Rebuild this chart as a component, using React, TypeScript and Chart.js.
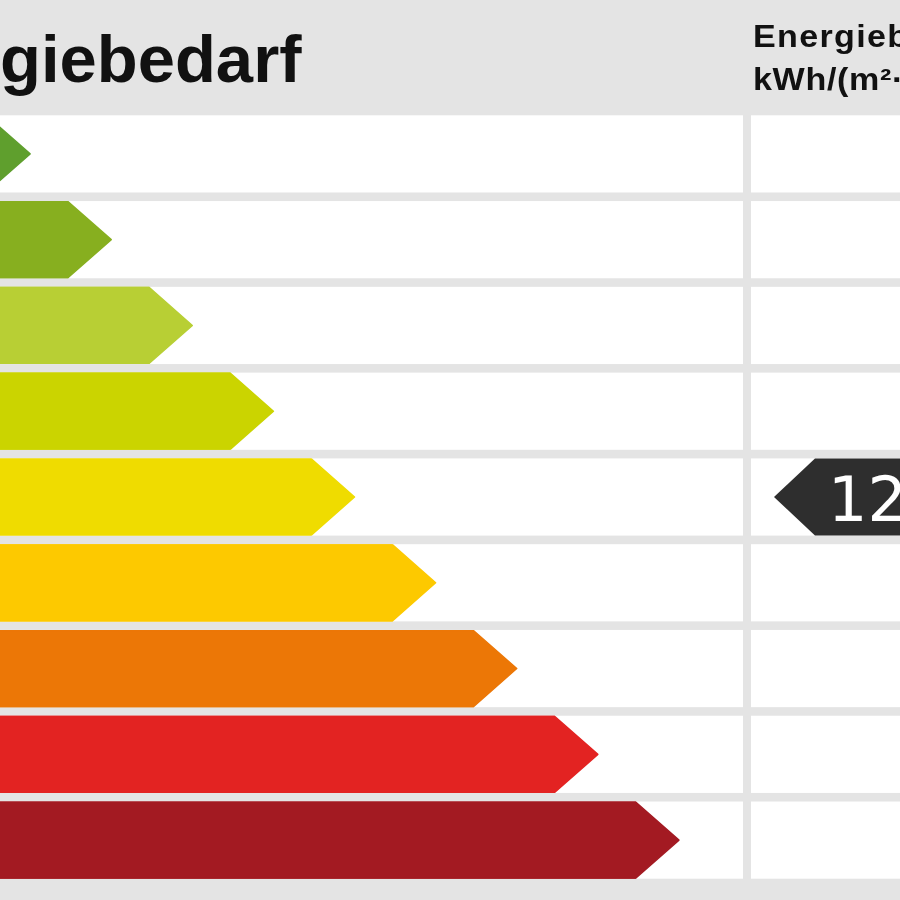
import React, { useEffect, useRef } from "react";
import { Chart, registerables } from "chart.js";

Chart.register(...registerables);

// ---- data ----
const classes = ["A+", "A", "B", "C", "D", "E", "F", "G", "H"];
const arrowLengths = [1, 2, 3, 4, 5, 6, 7, 8, 9];
const classColors = [
  "#5f9f2d",
  "#87af1f",
  "#b8cf34",
  "#cbd400",
  "#efdc00",
  "#fdc900",
  "#ec7706",
  "#e32322",
  "#a31a22",
];
const titleText = "Energiebedarf";
const headerLines = ["Energiebedarf", "kWh/(m²·a)"];
const markerClass = "D";
const markerValue = 125;

const CANVAS_W = 1150;
const CANVAS_H = 900;
const OFFSET_X = 170;
const FONT = '"Liberation Sans", Arial, sans-serif';

const energyPlugin = {
  id: "energyLabel",
  beforeDraw(chart: any) {
    const { ctx, width, height } = chart;
    ctx.save();
    ctx.fillStyle = "#e4e4e4";
    ctx.fillRect(0, 0, width, height);
    ctx.fillStyle = "#111111";
    ctx.textBaseline = "alphabetic";
    ctx.textAlign = "left";
    ctx.font = `bold 67px ${FONT}`;
    ctx.fillText(titleText, 21, 82);
    const hx = chart.chartArea.right + 10;
    ctx.save();
    ctx.translate(hx, 0);
    ctx.scale(1.1, 1);
    ctx.font = `bold 31px ${FONT}`;
    (ctx as any).letterSpacing = "1.2px";
    ctx.fillText(headerLines[0], 0, 47);
    (ctx as any).letterSpacing = "0.6px";
    ctx.fillText(headerLines[1], 0, 90);
    (ctx as any).letterSpacing = "0px";
    ctx.restore();
    ctx.restore();
  },
  beforeDatasetsDraw(chart: any) {
    const { ctx, width, chartArea } = chart;
    const meta = chart.getDatasetMeta(0);
    ctx.save();
    ctx.fillStyle = "#ffffff";
    meta.data.forEach((el: any) => {
      const p = el.getProps(["y", "height"], true);
      const top = p.y - p.height / 2;
      ctx.fillRect(0, top, chartArea.right, p.height);
      ctx.fillRect(chartArea.right + 8, top, width - chartArea.right - 8, p.height);
    });
    ctx.restore();
  },
  afterDatasetsDraw(chart: any) {
    const { ctx, width, chartArea } = chart;
    const meta = chart.getDatasetMeta(0);
    ctx.save();
    meta.data.forEach((el: any, i: number) => {
      const p = el.getProps(["x", "y", "base", "height"], true);
      const half = p.height / 2;
      const tip = p.height * 0.57;
      ctx.fillStyle = classColors[i];
      ctx.strokeStyle = classColors[i];
      ctx.lineJoin = "round";
      ctx.lineWidth = 1.5;
      ctx.beginPath();
      ctx.moveTo(p.base, p.y - half + 0.75);
      ctx.lineTo(p.x, p.y - half + 0.75);
      ctx.lineTo(p.x + tip - 1, p.y);
      ctx.lineTo(p.x, p.y + half - 0.75);
      ctx.lineTo(p.base, p.y + half - 0.75);
      ctx.closePath();
      ctx.fill();
      ctx.stroke();
    });
    // marker in right column
    const idx = classes.indexOf(markerClass);
    const el = meta.data[idx];
    if (el) {
      const p = el.getProps(["y", "height"], true);
      const half = p.height / 2;
      const tipX = chartArea.right + 31;
      const bodyX = tipX + 41;
      ctx.fillStyle = "#2e2e2e";
      ctx.beginPath();
      ctx.moveTo(tipX, p.y);
      ctx.lineTo(bodyX, p.y - half);
      ctx.lineTo(width, p.y - half);
      ctx.lineTo(width, p.y + half);
      ctx.lineTo(bodyX, p.y + half);
      ctx.closePath();
      ctx.fill();
      ctx.fillStyle = "#ffffff";
      ctx.font = `62px "DejaVu Sans", sans-serif`;
      ctx.textAlign = "left";
      ctx.textBaseline = "alphabetic";
      ctx.fillText(String(markerValue), tipX + 54, p.y + 24);
    }
    ctx.restore();
  },
};

export default function App() {
  const ref = useRef<HTMLCanvasElement | null>(null);
  useEffect(() => {
    if (!ref.current) return;
    const chart = new Chart(ref.current, {
      type: "bar",
      data: {
        labels: classes,
        datasets: [
          {
            data: arrowLengths,
            backgroundColor: classColors,
            borderWidth: 0,
            categoryPercentage: 1,
            barPercentage: 0.9,
          },
        ],
      },
      options: {
        indexAxis: "y",
        responsive: false,
        animation: false,
        layout: { padding: { left: 76, right: 237, top: 111, bottom: 17 } },
        scales: {
          x: { type: "linear", min: 0, max: 10.32, display: false },
          y: { type: "category", display: false },
        },
        plugins: { legend: { display: false }, tooltip: { enabled: false } },
      },
      plugins: [energyPlugin],
    });
    return () => chart.destroy();
  }, []);
  return (
    <div
      style={{
        position: "fixed",
        left: 0,
        top: 0,
        width: 900,
        height: 900,
        overflow: "hidden",
        background: "#e4e4e4",
      }}
    >
      <canvas
        ref={ref}
        width={CANVAS_W}
        height={CANVAS_H}
        style={{ position: "absolute", left: -OFFSET_X, top: 0, width: CANVAS_W, height: CANVAS_H }}
      />
    </div>
  );
}
